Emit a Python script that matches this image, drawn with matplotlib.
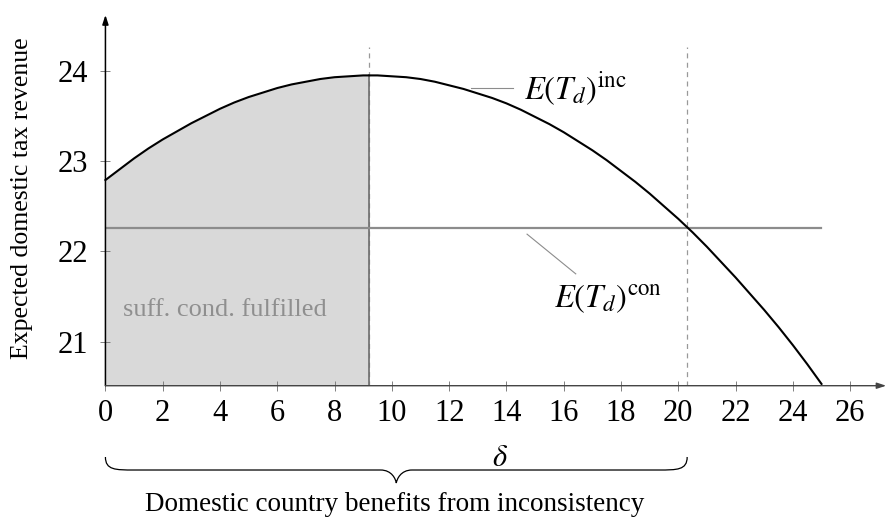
import matplotlib
matplotlib.use("Agg")
import matplotlib.pyplot as plt
from matplotlib.path import Path
from matplotlib.patches import PathPatch
from matplotlib.transforms import blended_transform_factory

plt.rcParams['font.family'] = ['Liberation Serif', 'DejaVu Serif']
plt.rcParams['mathtext.fontset'] = 'stix'

# ---- data ----
delta = [0, 0.5, 1, 1.5, 2, 2.5, 3, 3.5, 4, 4.5, 5, 5.5, 6, 6.5, 7, 7.5, 8,
         8.5, 9, 9.21, 9.5, 10, 10.5, 11, 11.5, 12, 12.5, 13, 13.5, 14, 14.5,
         15, 15.5, 16, 16.5, 17, 17.5, 18, 18.5, 19, 19.5, 20, 20.5, 21, 21.5,
         22, 22.5, 23, 23.5, 24, 24.5, 25]
rev_inc = [22.79, 22.91, 23.03, 23.14, 23.24, 23.33, 23.42, 23.50, 23.58,
           23.65, 23.71, 23.76, 23.81, 23.85, 23.88, 23.91, 23.93, 23.94,
           23.95, 23.95, 23.95, 23.94, 23.93, 23.91, 23.88, 23.84, 23.80,
           23.75, 23.70, 23.64, 23.57, 23.49, 23.41, 23.32, 23.22, 23.12,
           23.01, 22.89, 22.77, 22.64, 22.50, 22.36, 22.21, 22.05, 21.88,
           21.71, 21.53, 21.35, 21.16, 20.96, 20.75, 20.53]
rev_con = 22.255
con_range = [0, 25]
delta_peak = 9.21
delta_cross = 20.31
x_ticks = [0, 2, 4, 6, 8, 10, 12, 14, 16, 18, 20, 22, 24, 26]
y_ticks = [21, 22, 23, 24]
xlim = (0, 27.15)
ylim = (20.51, 24.62)

fig = plt.figure(figsize=(8.86, 5.18), dpi=100)
ax = fig.add_axes([0.119, 0.2554, 0.8777, 0.7157])
ax.set_xlim(*xlim)
ax.set_ylim(*ylim)

# shaded region
n_peak = delta.index(delta_peak) + 1
ax.fill_between(delta[:n_peak], ylim[0], rev_inc[:n_peak], color='#d9d9d9',
                lw=0, zorder=1)

# dashed verticals
for xv in (delta_peak, delta_cross):
    ax.plot([xv, xv], [ylim[0], 24.26], color='#999999', lw=0.9,
            dashes=(4, 3.5), zorder=2)
# solid vertical at the peak
ax.plot([delta_peak, delta_peak], [ylim[0], max(rev_inc)], color='#6e6e6e',
        lw=1.2, zorder=3)

# consistent revenue
ax.plot(con_range, [rev_con, rev_con], color='#8c8c8c', lw=1.6, zorder=3)
# inconsistent revenue curve
ax.plot(delta, rev_inc, color='black', lw=1.5, zorder=4, clip_on=False,
        solid_joinstyle='round')

# labels with pins
ax.plot([12.76, 14.23], [23.81, 23.81], color='#8c8c8c', lw=0.8, zorder=3)
ax.text(14.6, 23.80, r'$E(T_d)^{\mathrm{inc}}$', fontsize=23.5, va='center',
        ha='left')
ax.plot([14.72, 16.42], [22.19, 21.75], color='#8c8c8c', lw=0.8, zorder=3)
ax.text(15.65, 21.47, r'$E(T_d)^{\mathrm{con}}$', fontsize=23.5, va='center',
        ha='left')
ax.text(0.61, 21.35, 'suff. cond. fulfilled', fontsize=19, color='#8f8f8f',
        va='center', ha='left', zorder=5)

# axes styling
for s in ax.spines.values():
    s.set_visible(False)
ax.set_xticks(x_ticks)
ax.set_yticks(y_ticks)
ax.tick_params(axis='x', direction='inout', length=7.2, width=0.7,
               color='#808080', labelsize=22, pad=6)
ax.tick_params(axis='y', direction='inout', length=7.2, width=0.7,
               color='#808080', labelsize=22, pad=9)

ax.annotate('', xy=(0, 1.0), xytext=(0, 0), xycoords='axes fraction',
            arrowprops=dict(arrowstyle='-|>,head_length=0.55,head_width=0.18',
                            color='black', lw=1.1, shrinkA=0, shrinkB=0),
            annotation_clip=False, zorder=6)
ax.annotate('', xy=(1.004, 0), xytext=(0, 0), xycoords='axes fraction',
            arrowprops=dict(arrowstyle='-|>,head_length=0.55,head_width=0.18',
                            color='#444444', lw=1.0, shrinkA=0, shrinkB=0),
            annotation_clip=False, zorder=6)

# brace below the x axis
tr = blended_transform_factory(ax.transData, ax.transAxes)
x0, x1 = 0, delta_cross
xm = (x0 + x1) / 2
yt, ymid, yb = -0.1923, -0.2274, -0.2625
verts = [(x0, yt), (x0, ymid), (x0 + 0.35, ymid), (x0 + 1.0, ymid),
         (xm - 0.55, ymid),
         (xm - 0.15, ymid), (xm - 0.02, yb + 0.01), (xm, yb),
         (xm + 0.02, yb + 0.01), (xm + 0.15, ymid), (xm + 0.55, ymid),
         (x1 - 1.0, ymid),
         (x1 - 0.35, ymid), (x1, ymid), (x1, yt)]
codes = [Path.MOVETO, Path.CURVE4, Path.CURVE4, Path.CURVE4,
         Path.LINETO,
         Path.CURVE4, Path.CURVE4, Path.CURVE4,
         Path.CURVE4, Path.CURVE4, Path.CURVE4,
         Path.LINETO,
         Path.CURVE4, Path.CURVE4, Path.CURVE4]
ax.add_patch(PathPatch(Path(verts, codes), transform=tr, fill=False,
                       edgecolor='black', lw=0.9, clip_on=False))
ax.text(13.77, -0.196, r'$\delta$', transform=tr, fontsize=22, ha='center',
        va='center')
ax.text(10.09, -0.337, 'Domestic country benefits from inconsistency',
        transform=tr, fontsize=19.5, ha='center', va='baseline')

fig.text(22 / 886, 0.617, 'Expected domestic tax revenue', rotation=90,
         fontsize=18.5, ha='center', va='center')

fig.savefig('out.png', dpi=100)
